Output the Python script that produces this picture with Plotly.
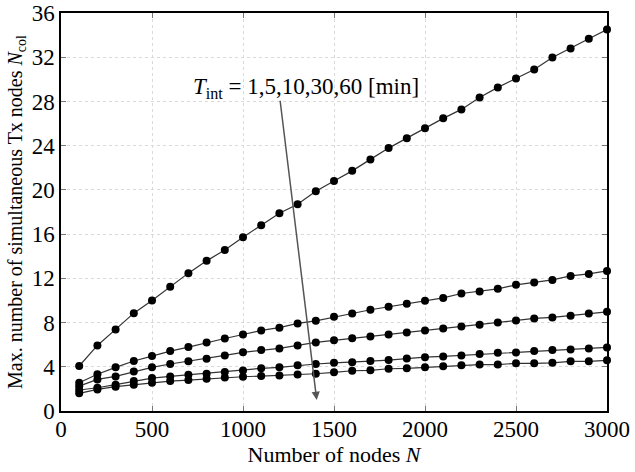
import plotly.graph_objects as go

N = [100, 200, 300, 400, 500, 600, 700, 800, 900, 1000,
     1100, 1200, 1300, 1400, 1500, 1600, 1700, 1800, 1900, 2000,
     2100, 2200, 2300, 2400, 2500, 2600, 2700, 2800, 2900, 3000]

t1 = [4.07, 5.93, 7.38, 8.85, 10.0, 11.23, 12.47, 13.58, 14.57, 15.72,
      16.8, 17.89, 18.7, 19.87, 20.8, 21.72, 22.76, 23.78, 24.68, 25.58,
      26.47, 27.28, 28.36, 29.27, 30.08, 30.89, 31.98, 32.79, 33.67, 34.5]
t5 = [2.55, 3.32, 3.95, 4.52, 4.97, 5.42, 5.78, 6.2, 6.56, 6.92,
      7.29, 7.54, 7.92, 8.16, 8.52, 8.82, 9.16, 9.44, 9.71, 9.98,
      10.23, 10.63, 10.81, 11.05, 11.41, 11.63, 11.86, 12.22, 12.4, 12.67]
t10 = [2.25, 2.86, 3.13, 3.57, 3.95, 4.25, 4.5, 4.72, 5.03, 5.31,
       5.51, 5.66, 5.93, 6.2, 6.39, 6.57, 6.73, 6.91, 7.09, 7.29,
       7.47, 7.65, 7.8, 8.01, 8.19, 8.37, 8.46, 8.61, 8.82, 8.97]
t30 = [1.9, 2.1, 2.38, 2.71, 2.98, 3.13, 3.28, 3.37, 3.52, 3.67,
       3.86, 3.95, 4.13, 4.25, 4.36, 4.42, 4.52, 4.61, 4.75, 4.87,
       4.94, 5.03, 5.15, 5.27, 5.3, 5.42, 5.51, 5.57, 5.66, 5.75]
t60 = [1.6, 1.95, 2.2, 2.38, 2.56, 2.71, 2.8, 2.92, 3.04, 3.1,
       3.16, 3.22, 3.3, 3.37, 3.5, 3.64, 3.68, 3.82, 3.86, 3.95,
       4.04, 4.13, 4.2, 4.2, 4.31, 4.31, 4.36, 4.49, 4.49, 4.58]

series = [t1, t5, t10, t30, t60]

x_ticks = [0, 500, 1000, 1500, 2000, 2500, 3000]
y_ticks = [0, 4, 8, 12, 16, 20, 24, 28, 32, 36]

FONT = "Liberation Serif, Times New Roman, serif"

fig = go.Figure()
for s in series:
    fig.add_trace(go.Scatter(
        x=N, y=s, mode="lines+markers",
        line=dict(color="#333333", width=1.2),
        marker=dict(color="black", size=8),
        showlegend=False, cliponaxis=False,
    ))

axis_common = dict(
    showline=True, linecolor="black", linewidth=1.5, mirror="ticks",
    ticks="inside", ticklen=5, tickcolor="#777777", tickwidth=1,
    showgrid=True, gridcolor="#dadada", griddash="dot", gridwidth=1,
    zeroline=False, automargin=False,
    tickfont=dict(family=FONT, size=23, color="black"),
)

fig.update_xaxes(range=[0, 3000], tickvals=x_ticks, ticklabelstandoff=-3,
                 title=dict(text="Number of nodes <i>N</i>", standoff=2,
                            font=dict(family=FONT, size=22, color="black")),
                 **axis_common)
fig.update_yaxes(range=[0, 36], tickvals=y_ticks,
                 title=dict(text="Max. number of simultaneous Tx nodes <i>N</i><sub>col</sub>",
                            standoff=4,
                            font=dict(family=FONT, size=20, color="black")),
                 **axis_common)

# arrow
fig.add_annotation(x=1405, y=1.0, ax=1203, ay=28.2, xref="x", yref="y",
                   axref="x", ayref="y", text="", showarrow=True,
                   arrowhead=2, arrowsize=1.1, arrowwidth=1.5, arrowcolor="#555555")
fig.add_annotation(x=1346, y=29.2, xref="x", yref="y", showarrow=False,
                   text="<i>T</i><sub>int</sub> = 1,5,10,30,60 [min]",
                   font=dict(family=FONT, size=23, color="black"),
                   bgcolor="rgba(0,0,0,0)")

fig.update_layout(
    width=635, height=472,
    margin=dict(l=61, r=28, t=13, b=61),
    paper_bgcolor="white", plot_bgcolor="white",
)

fig.write_html("out.html", config={"displayModeBar": False},
               post_script="document.body.style.margin='0';")
